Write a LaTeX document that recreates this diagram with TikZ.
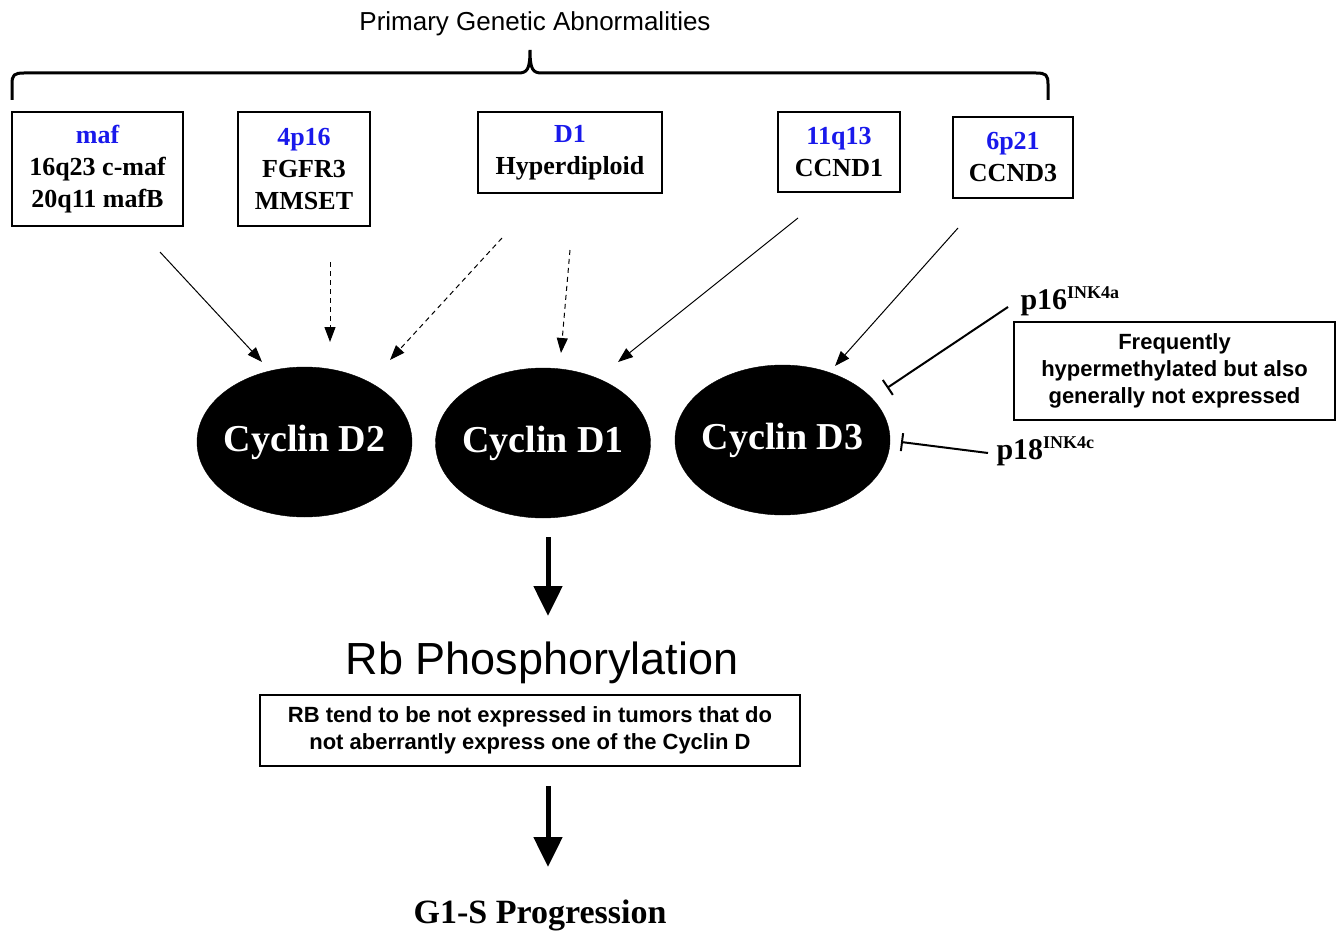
\documentclass[tikz,border=0pt]{standalone}
\usepackage{fontspec}
\setmainfont{Liberation Serif}
\setsansfont{Liberation Sans}
\usetikzlibrary{shapes.geometric,arrows.meta}
\definecolor{lblue}{RGB}{25,25,235}
\begin{document}
\begin{tikzpicture}[x=1pt,y=-1pt,
  gbox/.style={draw,line width=2.4pt,inner sep=0pt,align=center,
    font=\fontsize{26}{32}\selectfont\bfseries},
  cyc/.style={ellipse,fill=black,draw=black,inner sep=0pt,minimum width=215pt,minimum height=150pt,
    text=white,font=\fontsize{38}{40}\selectfont\bfseries},
  thin/.style={line width=1pt,-{Triangle[length=15pt,width=11pt]}},
  thindash/.style={thin,dash pattern=on 5pt off 4pt},
  inhib/.style={line width=2pt,-{Bar[width=18pt,line width=2pt]}},
  big/.style={line width=5pt,-{Triangle[length=30pt,width=28pt]}},
  note/.style={draw,line width=2.2pt,inner sep=0pt,align=center,
    font=\sffamily\bfseries\fontsize{22}{27}\selectfont}]
\useasboundingbox (0,0) rectangle (1342,931);

\node[font=\sffamily\fontsize{26}{30}\selectfont] (title) at (535,24) {Primary Genetic Abnormalities};
\draw[line width=3pt] (12,100) -- (12,84) .. controls (12,75) and (14,73) .. (24,73) -- (518,73)
  .. controls (527,73) and (530,70) .. (530,50)
  .. controls (530,70) and (533,73) .. (542,73) -- (1036,73)
  .. controls (1046,73) and (1048,75) .. (1048,84) -- (1048,100);

\node[gbox,minimum width=171pt,minimum height=114pt] (maf) at (97.5,169)
  {\textcolor{lblue}{maf}\\16q23 c-maf\\20q11 mafB};
\node[gbox,minimum width=132pt,minimum height=114pt] (fp) at (304,169)
  {\textcolor{lblue}{4p16}\\FGFR3\\MMSET};
\node[gbox,minimum width=184pt,minimum height=81pt] (hd) at (570,152.5)
  {\textcolor{lblue}{D1}\\Hyperdiploid};
\node[gbox,minimum width=122pt,minimum height=80pt] (eq) at (839,152)
  {\textcolor{lblue}{11q13}\\CCND1};
\node[gbox,minimum width=120pt,minimum height=81pt] (sp) at (1013,157.5)
  {\textcolor{lblue}{6p21}\\CCND3};

\node[cyc] (d2) at (304.5,442) {\makebox[0pt]{Cyclin D2}};
\node[cyc] (d1) at (543,443) {\makebox[0pt]{Cyclin D1}};
\node[cyc] (d3) at (782.5,440) {\makebox[0pt]{Cyclin D3}};

\coordinate (s1) at (160,252); \coordinate (e1) at (262,362);
\coordinate (s2) at (330,262); \coordinate (e2) at (330,342);
\coordinate (s3) at (502,238); \coordinate (e3) at (390,360);
\coordinate (s4) at (570,250); \coordinate (e4) at (561,353);
\coordinate (s5) at (798,218); \coordinate (e5) at (618,362);
\coordinate (s6) at (958,228); \coordinate (e6) at (835,366);
\draw[thin] (s1) -- (e1);
\draw[thindash] (s2) -- (e2);
\draw[thindash] (s3) -- (e3);
\draw[thindash] (s4) -- (e4);
\draw[thin] (s5) -- (e5);
\draw[thin] (s6) -- (e6);

\node[anchor=base west,font=\fontsize{30}{32}\selectfont\bfseries] (p16) at (1017,309)
  {p16\raisebox{11pt}{\fontsize{18}{18}\selectfont INK4a}};
\node[anchor=base west,font=\fontsize{30}{32}\selectfont\bfseries] (p18) at (993,459)
  {p18\raisebox{11pt}{\fontsize{18}{18}\selectfont INK4c}};
\coordinate (i1s) at (1008,307); \coordinate (i1e) at (887,388);
\coordinate (i2s) at (988,453); \coordinate (i2e) at (901,442);
\draw[inhib] (i1s) -- (i1e);
\draw[inhib] (i2s) -- (i2e);

\node[note,minimum width=321pt,minimum height=98pt] (freq) at (1174.5,371)
  {Frequently\\hypermethylated but also\\generally not expressed};

\coordinate (b1s) at (548,537); \coordinate (b1e) at (548,616);
\draw[big] (b1s) -- (b1e);
\node[font=\sffamily\fontsize{45}{50}\selectfont] (rb) at (542,663) {Rb Phosphorylation};
\node[note,minimum width=540pt,minimum height=71pt] (rbnote) at (530,730.5)
  {RB tend to be not expressed in tumors that do\\not aberrantly express one of the Cyclin D};
\coordinate (b2s) at (548,786); \coordinate (b2e) at (548,867);
\draw[big] (b2s) -- (b2e);
\node[font=\fontsize{34}{36}\selectfont\bfseries] (g1s) at (540,915) {G1-S Progression};
\end{tikzpicture}
\end{document}
